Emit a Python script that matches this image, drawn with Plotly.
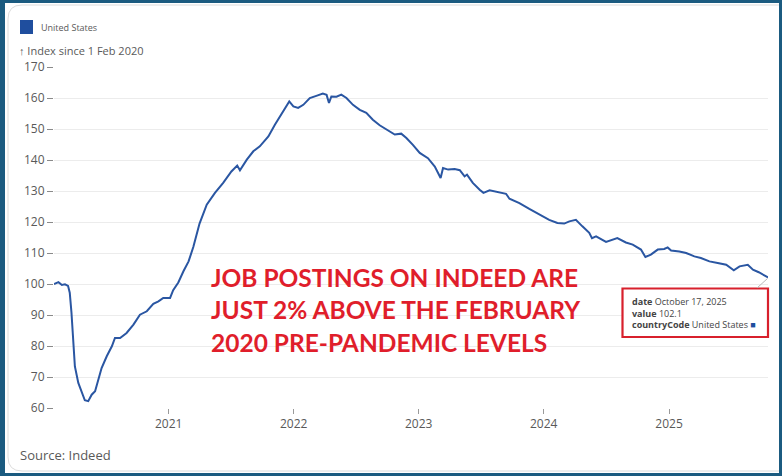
import plotly.graph_objects as go

# ---------------- data ----------------
dates = [
    "2020-02-01", "2020-02-14", "2020-02-24", "2020-03-04", "2020-03-13", "2020-03-18",
    "2020-03-23", "2020-03-28", "2020-04-02", "2020-04-12", "2020-04-22", "2020-05-01",
    "2020-05-11", "2020-05-21", "2020-05-31", "2020-06-09", "2020-06-19", "2020-07-04",
    "2020-07-19", "2020-07-28", "2020-08-12", "2020-08-31", "2020-09-20", "2020-10-09",
    "2020-10-29", "2020-11-17", "2020-12-02", "2020-12-16", "2021-01-05", "2021-01-14",
    "2021-01-29", "2021-02-13", "2021-02-28", "2021-03-14", "2021-04-01", "2021-04-22",
    "2021-05-16", "2021-06-09", "2021-07-03", "2021-07-20", "2021-07-28", "2021-08-17",
    "2021-09-05", "2021-09-24", "2021-10-19", "2021-11-07", "2021-11-27", "2021-12-06",
    "2021-12-19", "2021-12-31", "2022-01-14", "2022-01-29", "2022-02-17", "2022-03-08",
    "2022-03-27", "2022-04-07", "2022-04-14", "2022-04-21", "2022-05-06", "2022-05-20",
    "2022-06-04", "2022-06-23", "2022-07-13", "2022-08-01", "2022-08-20", "2022-09-09",
    "2022-09-28", "2022-10-23", "2022-11-11", "2022-11-26", "2022-12-15", "2023-01-04",
    "2023-01-28", "2023-02-17", "2023-03-06", "2023-03-13", "2023-03-28", "2023-04-16",
    "2023-05-01", "2023-05-15", "2023-05-22", "2023-06-08", "2023-06-28", "2023-07-09",
    "2023-07-27", "2023-08-20", "2023-09-13", "2023-09-23", "2023-10-22", "2023-11-20",
    "2023-12-19", "2024-01-17", "2024-02-10", "2024-03-01", "2024-03-16", "2024-04-04",
    "2024-04-23", "2024-05-13", "2024-05-21", "2024-06-02", "2024-07-01", "2024-07-20",
    "2024-08-03", "2024-08-28", "2024-09-17", "2024-10-11", "2024-10-24", "2024-11-09",
    "2024-11-29", "2024-12-18", "2024-12-28", "2025-01-07", "2025-01-31", "2025-02-20",
    "2025-03-16", "2025-04-04", "2025-04-29", "2025-05-23", "2025-06-17", "2025-07-09",
    "2025-07-26", "2025-08-19", "2025-09-03", "2025-09-20", "2025-10-06", "2025-10-17",
]
index_values = [
    100.0, 100.6, 99.7, 99.9, 99.4, 97.2,
    90.8, 81.0, 73.4, 68.1, 64.9, 62.5,
    62.2, 64.3, 65.4, 68.6, 72.9, 76.7,
    79.9, 82.6, 82.6, 84.2, 86.9, 90.1,
    91.2, 93.6, 94.4, 95.5, 95.5, 98.0,
    100.5, 104.1, 107.3, 112.0, 119.5, 125.6,
    129.4, 132.6, 136.3, 138.2, 136.7, 140.1,
    142.8, 144.4, 147.6, 151.4, 155.2, 156.8,
    158.9, 157.3, 156.8, 157.8, 160.0, 160.7,
    161.4, 161.0, 158.4, 160.5, 160.4, 161.1,
    160.0, 157.8, 156.2, 155.2, 153.0, 151.2,
    149.8, 148.2, 148.5, 147.1, 144.9, 142.3,
    140.6, 137.9, 134.2, 137.4, 136.9, 137.1,
    136.7, 134.7, 135.3, 132.6, 130.4, 129.4,
    130.2, 129.6, 129.1, 127.5, 126.1, 124.2,
    122.4, 120.7, 119.7, 119.5, 120.2, 120.7,
    118.6, 116.5, 114.8, 115.4, 113.6, 114.2,
    114.8, 113.4, 112.7, 111.1, 108.7, 109.5,
    111.1, 111.3, 111.8, 110.8, 110.5, 110.0,
    108.9, 108.4, 107.3, 106.8, 106.2, 104.4,
    105.7, 106.2, 104.6, 103.8, 102.7, 102.1,
]
series_name = "United States"
y_tick_values = [60, 70, 80, 90, 100, 110, 120, 130, 140, 150, 160, 170]
headline_lines = [
    "JOB POSTINGS ON INDEED ARE",
    "JUST 2% ABOVE THE FEBRUARY",
    "2020 PRE-PANDEMIC LEVELS",
]
tooltip_lines = [
    ("date", "October 17, 2025"),
    ("value", "102.1"),
    ("countryCode", "United States"),
]
axis_title = "↑ Index since 1 Feb 2020"
source_text = "Source: Indeed"

# ---------------- layout geometry ----------------
W, H = 782, 476
ML, MR, MT, MB = 54, 14, 67, 68
PW, PH = W - ML - MR, H - MT - MB


def px(x):
    return (x - ML) / PW


def py(y):
    return (H - MB - y) / PH


LINE_BLUE = "#2a56a2"
RED = "#e01e2b"
GREY_TXT = "#595959"
FRAME = "#1b5b80"

fig = go.Figure()
fig.add_trace(go.Scatter(
    x=dates, y=index_values, mode="lines", name=series_name,
    line=dict(color=LINE_BLUE, width=2), showlegend=False,
))

shapes = []
# outer dark frame
shapes.append(dict(type="rect", xref="paper", yref="paper",
                   x0=px(1.5), x1=px(W - 1.5), y0=py(H - 1.5), y1=py(1.5),
                   line=dict(color=FRAME, width=3), fillcolor="rgba(0,0,0,0)", layer="above"))
shapes.append(dict(type="rect", xref="paper", yref="paper",
                   x0=px(0), x1=px(5), y0=py(H), y1=py(0),
                   line=dict(width=0), fillcolor=FRAME, layer="above"))
# inner card border (rounded top-left / bottom-left)
r = 14
cx0, cy0, cx1, cy1 = 8, 5, W + 20, 471
path = (f"M {px(cx1)},{py(cy0)} L {px(cx0 + r)},{py(cy0)} "
        f"Q {px(cx0)},{py(cy0)} {px(cx0)},{py(cy0 + r)} "
        f"L {px(cx0)},{py(cy1 - r)} Q {px(cx0)},{py(cy1)} {px(cx0 + r)},{py(cy1)} "
        f"L {px(cx1)},{py(cy1)}")
shapes.append(dict(type="path", xref="paper", yref="paper", path=path,
                   line=dict(color="#dcdcdc", width=1), layer="below"))
# legend swatch
shapes.append(dict(type="rect", xref="paper", yref="paper",
                   x0=px(20), x1=px(33), y0=py(34), y1=py(20),
                   line=dict(width=0), fillcolor="#1f4e9e"))
# tooltip box
shapes.append(dict(type="rect", xref="paper", yref="paper",
                   x0=px(622.5), x1=px(768), y0=py(337), y1=py(288.5),
                   line=dict(color="#d8202c", width=2.2), fillcolor="white", layer="above"))
shapes.append(dict(type="line", xref="paper", yref="paper",
                   x0=px(757), x1=px(767.5), y0=py(288), y1=py(278.5),
                   line=dict(color="#b8b8b8", width=1)))

annotations = []
annotations.append(dict(xref="paper", yref="paper", x=px(39), y=py(27.5),
                        text=series_name, showarrow=False, xanchor="left", yanchor="middle",
                        font=dict(family="Open Sans", size=9, color=GREY_TXT)))
annotations.append(dict(xref="paper", yref="paper", x=px(17), y=py(50),
                        text=axis_title, showarrow=False, xanchor="left", yanchor="middle",
                        font=dict(family="Open Sans", size=11, color=GREY_TXT)))
annotations.append(dict(xref="paper", yref="paper", x=px(18), y=py(455),
                        text=source_text, showarrow=False, xanchor="left", yanchor="middle",
                        font=dict(family="Open Sans", size=13, color=GREY_TXT)))
for i, line in enumerate(headline_lines):
    annotations.append(dict(xref="paper", yref="paper", x=px(209), y=py(277 + 32.5 * i),
                            text=f"<b>{line}</b>", showarrow=False, xanchor="left",
                            yanchor="middle",
                            font=dict(family="Lato", size=24.5, color=RED)))
tip_parts = []
for k, v in tooltip_lines:
    txt = f"<b>{k}</b> {v}"
    if k == "countryCode":
        txt += " <span style='color:#1f4e9e'>■</span>"
    tip_parts.append(txt)
annotations.append(dict(xref="paper", yref="paper", x=px(630), y=py(313),
                        text="<br>".join(tip_parts), showarrow=False, xanchor="left",
                        yanchor="middle", align="left",
                        font=dict(family="Open Sans", size=9, color="#444444")))

fig.update_layout(
    width=W, height=H,
    margin=dict(l=ML, r=MR, t=MT, b=MB, pad=0),
    paper_bgcolor="white", plot_bgcolor="white",
    showlegend=False,
    shapes=shapes, annotations=annotations,
    font=dict(family="Open Sans", color=GREY_TXT, size=12),
    xaxis=dict(
        type="date", range=["2020-02-01", "2025-10-17"],
        tick0="2021-01-01", dtick="M12", tickformat="%Y",
        showgrid=False, zeroline=False, showline=False,
        ticks="outside", ticklen=5, tickcolor="#9a9a9a", tickwidth=1,
        tickfont=dict(family="Open Sans", size=12, color=GREY_TXT),
        fixedrange=True,
    ),
    yaxis=dict(
        range=[60, 170], tickvals=y_tick_values,
        showgrid=True, gridcolor="#ececec", gridwidth=1,
        zeroline=False, showline=False,
        ticks="outside", ticklen=6, tickcolor="#8a8a8a", tickwidth=1,
        tickfont=dict(family="Open Sans", size=12, color=GREY_TXT),
        fixedrange=True,
    ),
)

fig.write_html("out.html", config={"displayModeBar": False},
               post_script="document.body.style.margin='0px';")
